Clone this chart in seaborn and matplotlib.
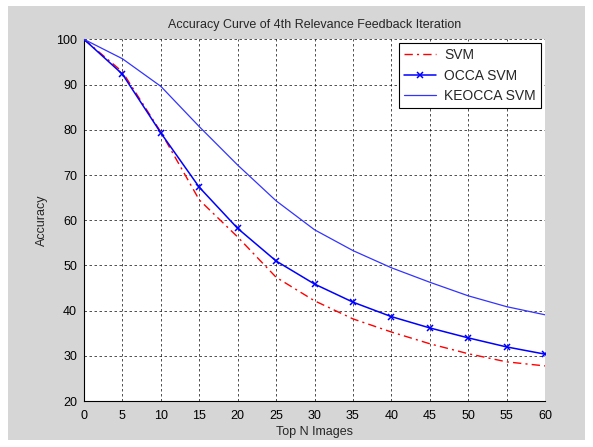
import matplotlib
matplotlib.use("Agg")
import matplotlib.pyplot as plt
from matplotlib.patches import Rectangle
import seaborn as sns
import pandas as pd

top_n = [0, 5, 10, 15, 20, 25, 30, 35, 40, 45, 50, 55, 60]
svm = [100, 92.8, 79.5, 64.5, 56.3, 47.4, 42.2, 38.2, 35.3, 32.7, 30.5, 28.7, 27.8]
occa_svm = [100, 92.3, 79.3, 67.3, 58.2, 51.0, 45.9, 41.9, 38.7, 36.2, 34.0, 32.0, 30.4]
keocca_svm = [100, 95.7, 89.6, 80.7, 72.2, 64.3, 57.9, 53.3, 49.5, 46.3, 43.3, 40.9, 39.1]
series_names = ['SVM', 'OCCA SVM', 'KEOCCA SVM']

x_ticks = list(range(0, 61, 5))
y_ticks = list(range(20, 101, 10))

sns.set_style("white")
plt.rcParams['font.family'] = ['Liberation Sans', 'DejaVu Sans']

fig = plt.figure(figsize=(5.93, 4.47), dpi=100, facecolor='white')
fig.patches.append(Rectangle((8/593, 1-440/447), (585-8)/593, (440-6)/447,
                             transform=fig.transFigure, facecolor='#d6d6d6',
                             edgecolor='none', zorder=-10))
ax = fig.add_axes([84/593, 1-401.2/447, (545-84)/593, (401.2-39.3)/447])
ax.set_facecolor('white')

df_svm = pd.DataFrame({'x': top_n, 'y': svm})
df_occa = pd.DataFrame({'x': top_n, 'y': occa_svm})
df_ke = pd.DataFrame({'x': top_n, 'y': keocca_svm})

sns.lineplot(data=df_svm, x='x', y='y', ax=ax, color='#ff0000',
             linewidth=1.0, zorder=3)
l_svm = ax.lines[-1]
l_svm.set_linestyle((0, (6, 3, 1.5, 3)))

sns.lineplot(data=df_occa, x='x', y='y', ax=ax, color='#0000ff', linewidth=1.1,
             zorder=4)
l_occa = ax.lines[-1]
l_occa.set_linestyle('-')
l_occa.set_marker('x')
l_occa.set_markersize(5)
l_occa.set_markeredgewidth(1.1)
l_occa.set_markeredgecolor('#0000ff')
l_occa.set_markerfacecolor('#0000ff')

sns.lineplot(data=df_ke, x='x', y='y', ax=ax, color='#3333ff', linewidth=0.9,
             zorder=4)
l_ke = ax.lines[-1]
l_ke.set_linestyle('-')

ax.set_xlim(0, 60)
ax.set_ylim(20, 100)
ax.set_xticks(x_ticks)
ax.set_yticks(y_ticks)
ax.set_xticklabels([str(t) for t in x_ticks])
ax.set_yticklabels([str(t) for t in y_ticks])
ax.tick_params(direction='in', length=3, labelsize=9, colors='black')
ax.tick_params(axis='x', pad=6)
ax.tick_params(axis='y', pad=5)
ax.grid(True, color='black', linestyle=(0, (3, 3)), linewidth=0.6, alpha=0.8)
ax.spines['top'].set_visible(False)
ax.spines['right'].set_visible(False)
for s in ('left', 'bottom'):
    ax.spines[s].set_color('black')
    ax.spines[s].set_linewidth(0.8)

ax.set_title('Accuracy Curve of 4th Relevance Feedback Iteration', fontsize=9, pad=8)
ax.set_xlabel('Top N Images', fontsize=9, labelpad=3)
ax.set_ylabel('Accuracy', fontsize=9, labelpad=6)

leg = ax.legend([l_svm, l_occa, l_ke], series_names, loc='upper right', fontsize=10,
                frameon=True, fancybox=False, edgecolor='black',
                borderaxespad=0.3, handlelength=2.3, handletextpad=0.6,
                borderpad=0.35, labelspacing=0.45)
leg.get_frame().set_linewidth(0.8)
leg.get_frame().set_facecolor('white')
leg.get_frame().set_alpha(1)

fig.savefig('out.png', dpi=100, facecolor=fig.get_facecolor())
